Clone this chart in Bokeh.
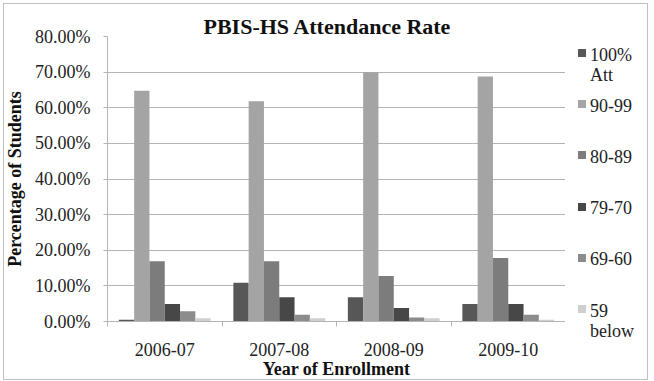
from bokeh.plotting import figure
from bokeh.layouts import row
from bokeh.models import (ColumnDataSource, FixedTicker, NumeralTickFormatter, Range1d, Div)
from bokeh.transform import dodge
from bokeh.embed import file_html
from bokeh.resources import INLINE

# School years on the x axis
years = ["2006-07", "2007-08", "2008-09", "2009-10"]

# Attendance bands (legend entries)
bands = ["100%\nAtt", "90-99", "80-89", "79-70", "69-60", "59\nbelow"]

# Share of students in each band, per year (fractions)
att_100 = [0.005, 0.109, 0.068, 0.049]
att_90_99 = [0.648, 0.618, 0.700, 0.688]
att_80_89 = [0.169, 0.169, 0.128, 0.178]
att_79_70 = [0.049, 0.068, 0.038, 0.049]
att_69_60 = [0.029, 0.019, 0.011, 0.019]
att_59_below = [0.009, 0.009, 0.009, 0.005]

series = [att_100, att_90_99, att_80_89, att_79_70, att_69_60, att_59_below]
colors = ["#575757", "#a4a4a4", "#7c7c7c", "#474747", "#8c8c8c", "#cfcfcf"]

# y axis ticks, 0% .. 80% in 10% steps
y_ticks = [i / 10 for i in range(9)]

FONT = "Liberation Serif"
GRID = "#b4b4b4"
W, H = 654, 381
LEG_W = 89

data = {"xc": [i + 0.5 for i in range(len(years))]}
keys = []
for k, vals in enumerate(series):
    key = f"s{k}"
    keys.append(key)
    data[key] = vals
source = ColumnDataSource(data)

p = figure(width=W - LEG_W, height=H, output_backend="svg", toolbar_location=None,
           x_range=Range1d(0, len(years)), y_range=Range1d(0, 0.8),
           min_border_left=107, min_border_right=0,
           min_border_top=36, min_border_bottom=60,
           title="PBIS-HS Attendance Rate")
p.outline_line_color = None
p.background_fill_color = "white"
p.border_fill_color = None

# chart title, resting on the top gridline
p.title.text_font = FONT
p.title.text_font_size = "22px"
p.title.text_font_style = "bold"
p.title.text_color = "#111111"
p.title.align = "left"
p.title.offset = 96
p.title.standoff = -4

bar_w = 0.1336
for k, key in enumerate(keys):
    p.vbar(x=dodge("xc", (k - 2.5) * bar_w, range=p.x_range), top=key,
           width=bar_w, bottom=0, source=source,
           fill_color=colors[k], line_color=None)

# x axis: labels at category centres, tick marks at category boundaries
xax = p.xaxis[0]
xax.ticker = FixedTicker(ticks=data["xc"], minor_ticks=list(range(len(years) + 1)))
xax.major_label_overrides = {c: y for c, y in zip(data["xc"], years)}
xax.major_tick_line_color = None
xax.major_tick_out = 0
xax.major_tick_in = 0
xax.minor_tick_line_color = GRID
xax.minor_tick_out = 5
xax.minor_tick_in = 0
xax.axis_line_color = GRID
xax.major_label_text_font = FONT
xax.major_label_text_font_size = "18px"
xax.major_label_text_color = "#222222"
xax.major_label_standoff = 16
xax.axis_label = "Year of Enrollment"
xax.axis_label_text_font = FONT
xax.axis_label_text_font_size = "18px"
xax.axis_label_text_font_style = "bold"
xax.axis_label_text_color = "#111111"
xax.axis_label_standoff = 0

yax = p.yaxis[0]
yax.ticker = FixedTicker(ticks=y_ticks, minor_ticks=[])
yax.formatter = NumeralTickFormatter(format="0.00%")
yax.axis_line_color = GRID
yax.major_tick_line_color = GRID
yax.major_tick_out = 4
yax.major_tick_in = 0
yax.minor_tick_line_color = None
yax.major_label_text_font = FONT
yax.major_label_text_font_size = "18px"
yax.major_label_text_color = "#222222"
yax.major_label_standoff = 13
yax.axis_label = "Percentage of Students"
yax.axis_label_text_font = FONT
yax.axis_label_text_font_size = "18px"
yax.axis_label_text_font_style = "bold"
yax.axis_label_text_color = "#111111"
yax.axis_label_standoff = 7

p.xgrid.visible = False
p.ygrid.ticker = FixedTicker(ticks=y_ticks)
p.ygrid.grid_line_color = GRID
p.ygrid.grid_line_width = 1

# legend strip to the right of the plot: colour key + band name per row
first_y, step = 53, 51.2
key_left, text_left, key_size, line_h = 13, 25, 8, 20
entries = []
for i, (band, color) in enumerate(zip(bands, colors)):
    cy = first_y + i * step
    label_html = "<br>".join(band.split("\n"))
    entries.append(
        f'<div style="position:absolute;left:{key_left}px;top:{cy - key_size / 2:.1f}px;'
        f'width:{key_size}px;height:{key_size}px;background:{color};"></div>'
        f'<div style="position:absolute;left:{text_left}px;top:{cy + 1.5 - line_h / 2:.1f}px;'
        f'white-space:nowrap;">{label_html}</div>'
    )
legend_html = (
    f'<div style="position:relative;width:{LEG_W}px;height:{H}px;'
    f"font-family:'{FONT}';font-size:18px;line-height:{line_h}px;color:#222222;\">"
    + "".join(entries) + "</div>"
)
legend = Div(text=legend_html, width=LEG_W, height=H, margin=0)

# thin light-grey border around the chart area (white margins painted over it)
BORDER = "#c0c0c0"
layout = row(p, legend, spacing=0)
layout.styles = {
    "box-shadow": (f"inset 3px 3px 0 0 white, inset -6px -1px 0 0 white, "
                   f"inset 4px 4px 0 0 {BORDER}, inset -7px -2px 0 0 {BORDER}"),
    "background-color": "white",
}

open("out.html", "w").write(file_html(layout, INLINE))
